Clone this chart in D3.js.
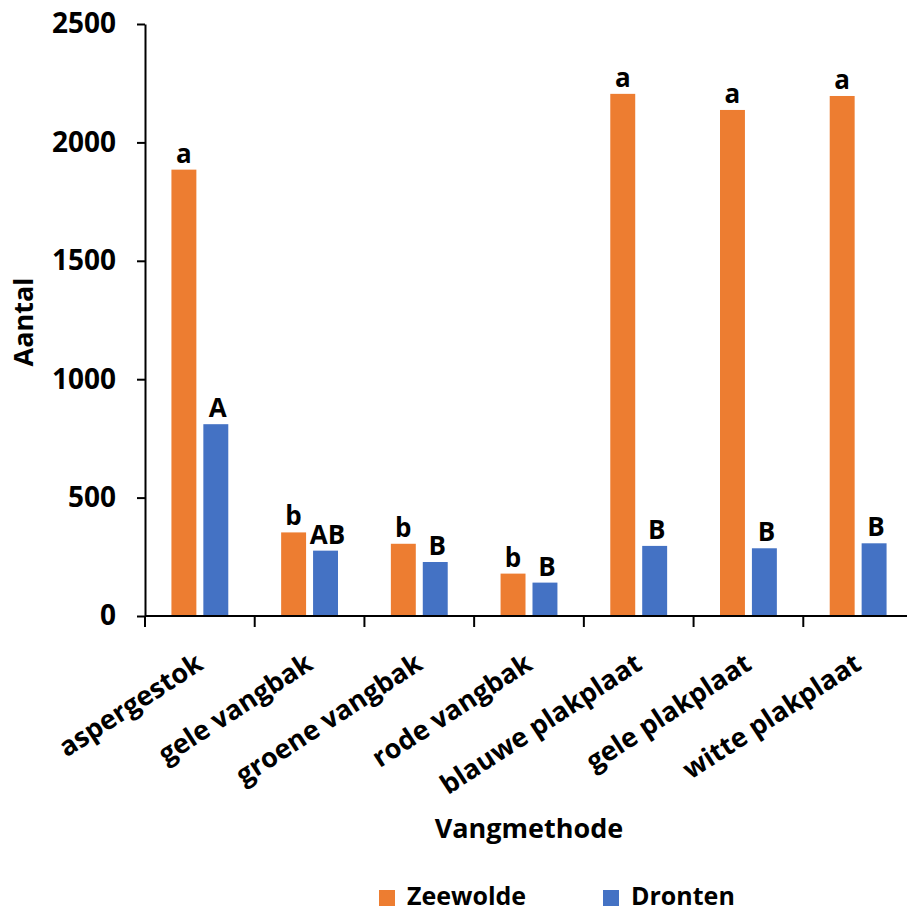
<!DOCTYPE html>
<html>
<head>
<meta charset="utf-8">
<script src="https://cdn.jsdelivr.net/npm/d3@7/dist/d3.min.js"></script>
<style>
  html, body { margin: 0; padding: 0; background: #fff; }
  svg { display: block; font-family: "Open Sans", sans-serif; font-weight: bold; }
</style>
</head>
<body>
<div id="chart"></div>
<script>
// Data
const categories = ['aspergestok', 'gele vangbak', 'groene vangbak', 'rode vangbak',
  'blauwe plakplaat', 'gele plakplaat', 'witte plakplaat'];
const series = ['Zeewolde', 'Dronten'];
const zeewolde = [1885, 353, 305, 179, 2205, 2137, 2196];
const dronten = [810, 276, 228, 141, 296, 286, 307];
const zeewoldeLetters = ['a', 'b', 'b', 'b', 'a', 'a', 'a'];
const drontenLetters = ['A', 'AB', 'B', 'B', 'B', 'B', 'B'];
const yTicks = [0, 500, 1000, 1500, 2000, 2500];

const colors = { Zeewolde: '#ED7D31', Dronten: '#4472C4' };

const width = 907;
const height = 911;
const margin = { left: 145, right: -6, top: 24, bottom: 295 };

const svg = d3.select('#chart').append('svg')
  .attr('width', width)
  .attr('height', height);

const x0 = d3.scaleBand()
  .domain(categories)
  .range([margin.left, width - margin.right]);

const x1 = d3.scaleBand()
  .domain(series)
  .range([0, x0.bandwidth()])
  .paddingInner(7 / 32)
  .paddingOuter(0.828);

const y = d3.scaleLinear()
  .domain([0, 2500])
  .range([height - margin.bottom, margin.top]);

const rows = categories.map((c, i) => ({
  category: c,
  values: [
    { key: 'Zeewolde', value: zeewolde[i], letter: zeewoldeLetters[i] },
    { key: 'Dronten', value: dronten[i], letter: drontenLetters[i] }
  ]
}));

// Bars
const groups = svg.append('g')
  .selectAll('g')
  .data(rows)
  .join('g')
  .attr('transform', d => `translate(${x0(d.category)},0)`);

groups.selectAll('rect')
  .data(d => d.values)
  .join('rect')
  .attr('x', d => x1(d.key))
  .attr('y', d => y(d.value))
  .attr('width', x1.bandwidth())
  .attr('height', d => y(0) - y(d.value))
  .attr('fill', d => colors[d.key]);

// Significance letters
groups.selectAll('text')
  .data(d => d.values)
  .join('text')
  .attr('x', d => x1(d.key) + x1.bandwidth() / 2 + (d.key === 'Dronten' ? 2 : 0))
  .attr('y', d => y(d.value) - 7)
  .attr('text-anchor', 'middle')
  .attr('font-size', 26)
  .attr('fill', '#000')
  .text(d => d.letter);

// Y axis
const yAxis = d3.axisLeft(y)
  .tickValues(yTicks)
  .tickFormat(d3.format('d'))
  .tickSize(8)
  .tickSizeOuter(0)
  .tickPadding(21);

const gy = svg.append('g')
  .attr('transform', `translate(${margin.left},0)`)
  .call(yAxis);
gy.select('.domain').attr('stroke', '#000').attr('stroke-width', 2);
gy.selectAll('.tick line').attr('stroke', '#000').attr('stroke-width', 2);
gy.selectAll('.tick text')
  .attr('font-size', 28)
  .attr('font-family', '"Open Sans", sans-serif')
  .attr('font-weight', 'bold')
  .attr('fill', '#000');

// X axis line and boundary ticks
const baseY = y(0);
svg.append('line')
  .attr('x1', margin.left)
  .attr('x2', width)
  .attr('y1', baseY)
  .attr('y2', baseY)
  .attr('stroke', '#000')
  .attr('stroke-width', 2);

svg.append('g')
  .selectAll('line')
  .data(categories)
  .join('line')
  .attr('x1', d => x0(d))
  .attr('x2', d => x0(d))
  .attr('y1', baseY)
  .attr('y2', baseY + 11)
  .attr('stroke', '#000')
  .attr('stroke-width', 2);

// Category labels
svg.append('g')
  .selectAll('text')
  .data(categories)
  .join('text')
  .attr('transform', d => `translate(${x0(d) + x0.bandwidth() / 2 + 5},668) rotate(-33)`)
  .attr('text-anchor', 'end')
  .attr('font-size', 27)
  .attr('fill', '#000')
  .text(d => d);

// Axis titles
svg.append('text')
  .attr('x', (margin.left + width - margin.right) / 2)
  .attr('y', 838)
  .attr('text-anchor', 'middle')
  .attr('font-size', 27)
  .text('Vangmethode');

svg.append('text')
  .attr('transform', `translate(33,322) rotate(-90)`)
  .attr('text-anchor', 'middle')
  .attr('font-size', 27)
  .text('Aantal');

// Legend
const legend = svg.append('g')
  .selectAll('g')
  .data(series)
  .join('g')
  .attr('transform', (d, i) => `translate(${[379, 603][i]},0)`);

legend.append('rect')
  .attr('x', 0)
  .attr('y', 890)
  .attr('width', 16)
  .attr('height', 16)
  .attr('fill', d => colors[d]);

legend.append('text')
  .attr('x', 28)
  .attr('y', 905)
  .attr('font-size', 25)
  .text(d => d);
</script>
</body>
</html>
